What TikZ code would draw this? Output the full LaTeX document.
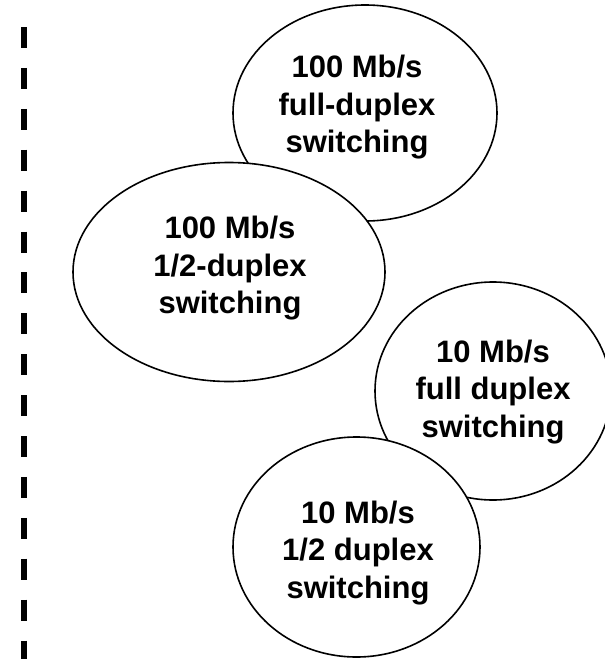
\documentclass[tikz,border=0pt]{standalone}
\usepackage{fontspec}
\setmainfont{Liberation Sans}
\usetikzlibrary{shapes.geometric}
\tikzset{
  bubble/.style={ellipse, draw=black, fill=white, line width=1.6pt, inner sep=0pt},
  bubbletext/.style={align=center, inner sep=0pt, font=\fontsize{31}{37.5}\selectfont\bfseries},
  divider/.style={line width=6pt, line cap=butt, dash pattern=on 21pt off 19.9pt}
}
\begin{document}
\begin{tikzpicture}[x=1pt,y=-1pt]
\useasboundingbox (0,0) rectangle (605,659);
\begin{scope}
\clip (0,0) rectangle (605,659);
\coordinate (dtop) at (24,27);
\coordinate (dbot) at (24,659);
\draw[divider] (dtop) -- (dbot);
\node[bubble, minimum width=264pt, minimum height=216pt] (e1) at (365,113) {};
\node[bubble, minimum width=312pt, minimum height=219pt] (e2) at (229,272) {};
\node[bubble, minimum width=236pt, minimum height=218pt] (e3) at (493,391) {};
\node[bubble, minimum width=247pt, minimum height=220pt] (e4) at (356.5,547) {};
\node[bubbletext] (t1) at (357,107.5) {100 Mb/s\\full-duplex\\switching};
\node[bubbletext] (t2) at (230,268.5) {100 Mb/s\\1/2-duplex\\switching};
\node[bubbletext] (t3) at (493,392) {10 Mb/s\\full duplex\\switching};
\node[bubbletext] (t4) at (358,553) {10 Mb/s\\1/2 duplex\\switching};
\end{scope}
\end{tikzpicture}
\end{document}
